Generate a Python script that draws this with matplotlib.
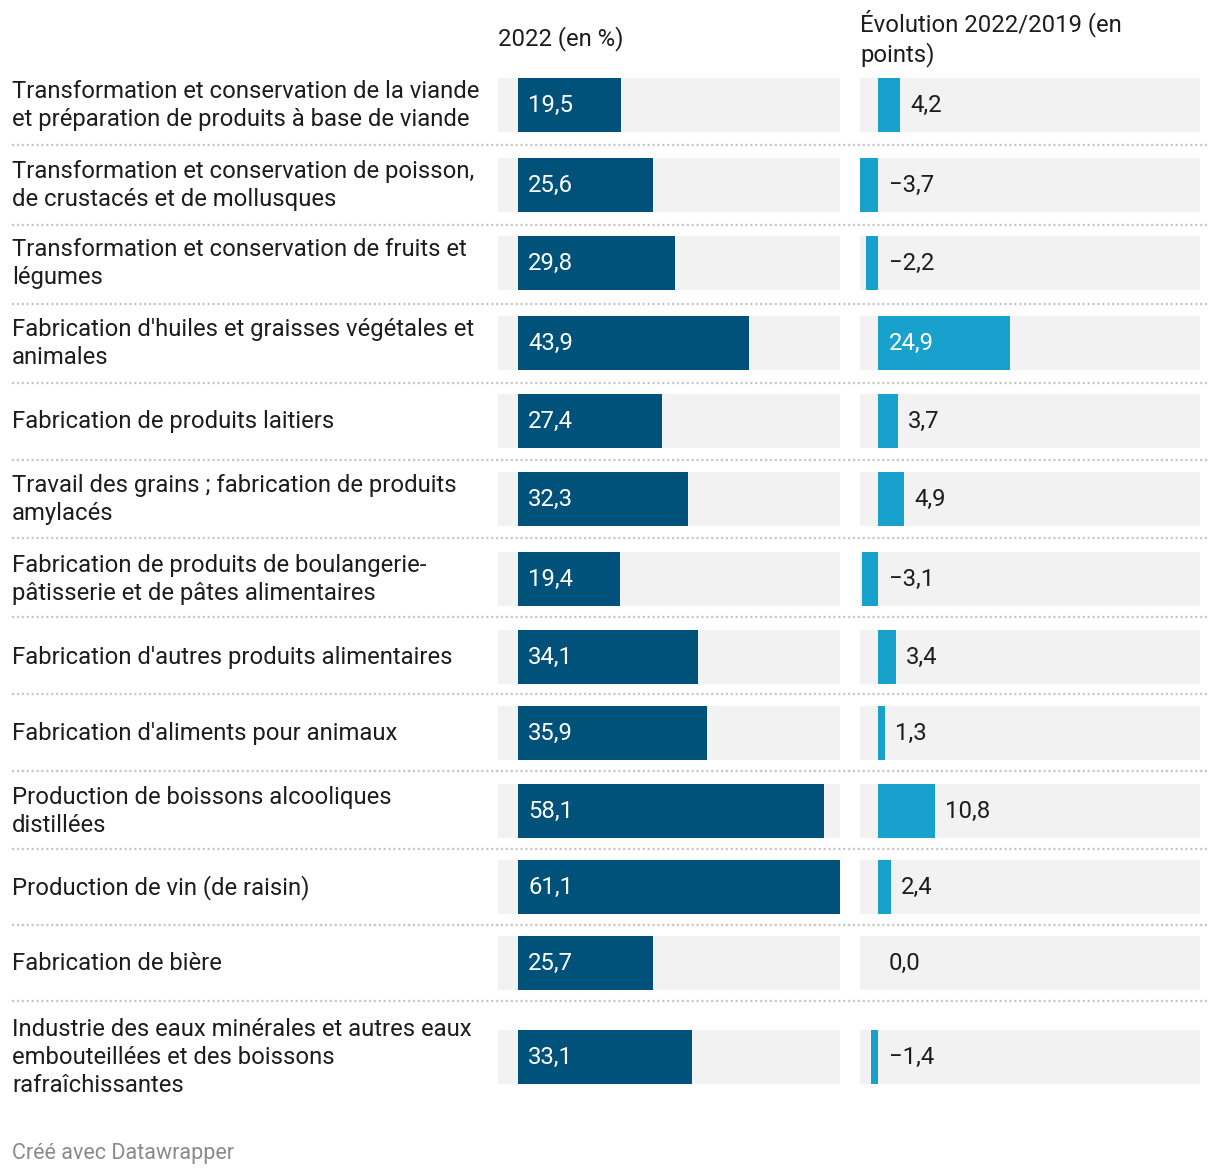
import numpy as np
import matplotlib.pyplot as plt

plt.rcParams['font.family'] = ['Roboto', 'DejaVu Sans']

# Data
categories = [
    "Transformation et conservation de la viande\net préparation de produits à base de viande",
    "Transformation et conservation de poisson,\nde crustacés et de mollusques",
    "Transformation et conservation de fruits et\nlégumes",
    "Fabrication d'huiles et graisses végétales et\nanimales",
    "Fabrication de produits laitiers",
    "Travail des grains ; fabrication de produits\namylacés",
    "Fabrication de produits de boulangerie-\npâtisserie et de pâtes alimentaires",
    "Fabrication d'autres produits alimentaires",
    "Fabrication d'aliments pour animaux",
    "Production de boissons alcooliques\ndistillées",
    "Production de vin (de raisin)",
    "Fabrication de bière",
    "Industrie des eaux minérales et autres eaux\nembouteillées et des boissons\nrafraîchissantes",
]
share_2022 = [19.5, 25.6, 29.8, 43.9, 27.4, 32.3, 19.4, 34.1, 35.9, 58.1, 61.1, 25.7, 33.1]
evol_2022_2019 = [4.2, -3.7, -2.2, 24.9, 3.7, 4.9, -3.1, 3.4, 1.3, 10.8, 2.4, 0.0, -1.4]
col_titles = ["2022 (en %)", "Évolution 2022/2019 (en\npoints)"]

# Layout (pixels)
W, H = 1220, 1176
row_y = [104.5, 184.5, 262.5, 342.5, 420.5, 498.5, 578.5, 656.5, 732.5, 810.5, 886.5, 962.5, 1056.5]
divider_y = [145, 225, 304, 383, 460, 538, 617, 694, 771, 849, 925, 1001]
bar_h = 54
dark = "#00527a"
light = "#18a1cd"
panel_bg = "#f2f2f2"
text_col = "#1d1d1d"
fs = 17.2

def fmt(v):
    s = f"{abs(v):.1f}".replace(".", ",")
    return ("\u2212" + s) if v < 0 else s

fig = plt.figure(figsize=(W / 100, H / 100), dpi=100)

# background axes in pixel coords for texts & dividers
bg = fig.add_axes([0, 0, 1, 1])
bg.set_xlim(0, W)
bg.set_ylim(H, 0)
bg.axis("off")

for lab, y in zip(categories, row_y):
    bg.text(12, y + 1, lab, fontsize=fs, color=text_col, va="center", ha="left", linespacing=1.25)
for y in divider_y:
    bg.plot([12, 1208], [y, y], color="#c8c8c8", lw=1.6, ls=(0, (1, 1.2)))

bg.text(498, 39, col_titles[0], fontsize=fs, color=text_col, va="center", ha="left")
bg.text(860, 38, col_titles[1], fontsize=fs, color=text_col, va="center", ha="left", linespacing=1.25)
bg.text(12, 1153, "Créé avec Datawrapper", fontsize=15.5, color="#8a8a8a", va="center", ha="left")

# left panel
ax1 = fig.add_axes([498 / W, 0, 342 / W, 1])
ax1.set_ylim(H, 0)
ax1.set_xlim(-3.8, 61.1)
ax1.axis("off")
ax1.barh(row_y, [64.9] * len(row_y), left=-3.8, height=bar_h, color=panel_bg)
ax1.barh(row_y, share_2022, height=bar_h, color=dark)
for v, y in zip(share_2022, row_y):
    ax1.text(1.9, y + 1, fmt(v), color="white", fontsize=fs, va="center", ha="left")

# right panel
ax2 = fig.add_axes([860 / W, 0, 340 / W, 1])
ax2.set_ylim(H, 0)
ax2.set_xlim(-3.4, 60.75)
ax2.axis("off")
ax2.barh(row_y, [64.15] * len(row_y), left=-3.4, height=bar_h, color=panel_bg)
ax2.barh(row_y, evol_2022_2019, height=bar_h, color=light)
for v, y in zip(evol_2022_2019, row_y):
    if v > 20:
        ax2.text(2.0, y + 1, fmt(v), color="white", fontsize=fs, va="center", ha="left")
    elif v > 0:
        ax2.text(v + 1.9, y + 1, fmt(v), color=text_col, fontsize=fs, va="center", ha="left")
    else:
        ax2.text(2.0, y + 1, fmt(v), color=text_col, fontsize=fs, va="center", ha="left")

fig.savefig("out.png", dpi=100, facecolor="white")
